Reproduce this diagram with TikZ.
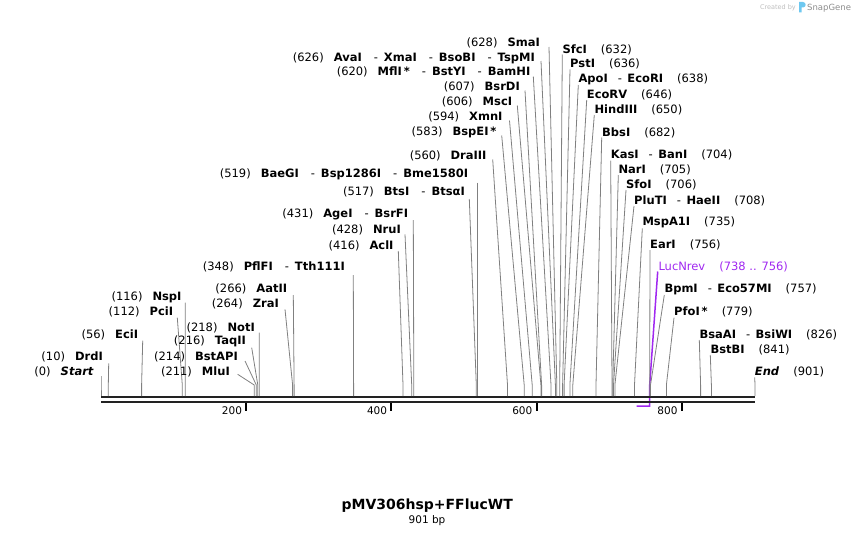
\documentclass[tikz,border=0pt]{standalone}
\usepackage{fontspec}
\setmainfont{DejaVu Sans}
\definecolor{siteg}{RGB}{128,128,128}
\definecolor{bbone}{RGB}{34,34,34}
\definecolor{primerc}{RGB}{160,40,240}
\definecolor{wmlight}{RGB}{190,190,190}
\definecolor{wmdark}{RGB}{140,140,140}
\definecolor{wmblue}{RGB}{110,200,240}
\newcommand\gapA{\hspace{10pt}}
\newcommand\gapB{\hspace{14pt}}
\newcommand\dsh{\hspace{10pt}-\hspace{5.5pt}}
\newcommand\dshL{\hspace{12pt}-\hspace{6pt}}
% left label: name, text right x, baseline y, line start x, line start y, site x, text
\newcommand\lsite[7]{%
  \node[lbl, anchor=base east] (#1) at (#2,#3) {#7};
  \coordinate (#1-t) at (#4,#5);
  \coordinate (#1-k) at (#6,385);
  \coordinate (#1-s) at (#6,396);
  \draw[siteline] (#1-t) -- (#1-k) -- (#1-s);}
% right label: name, text left x, baseline y, line start x, line start y, site x, text
\newcommand\rsite[7]{%
  \node[lbl, anchor=base west] (#1) at (#2,#3) {#7};
  \coordinate (#1-t) at (#4,#5);
  \coordinate (#1-k) at (#6,385);
  \coordinate (#1-s) at (#6,396);
  \draw[siteline] (#1-t) -- (#1-k) -- (#1-s);}
\newcommand\tickat[2]{%
  \coordinate (tk#2a) at (#1,403);
  \coordinate (tk#2b) at (#1,410.5);
  \draw[tickline] (tk#2a) -- (tk#2b);
  \node[ticklbl, anchor=base east] (tl#2) at (#1-4,414) {#2};}
\begin{document}
\begin{tikzpicture}[x=1pt,y=-1pt,
  lbl/.style={inner sep=0pt, font=\fontsize{11.5}{13}\selectfont},
  siteline/.style={draw=siteg, line width=0.8pt},
  bbline/.style={draw=bbone, line width=2.2pt},
  tickline/.style={draw=black, line width=2pt},
  ticklbl/.style={inner sep=0pt, font=\fontsize{10.5}{12}\selectfont},
  primerline/.style={draw=primerc, line width=1.5pt}]
\useasboundingbox (0,0) rectangle (856,535);

% watermark
\node[inner sep=0pt, anchor=base east, text=wmlight, font=\fontsize{6.5}{8}\selectfont] (wm1) at (796,10) {Created by};
\fill[wmblue] (799,12.5) -- (799,2) -- (803,2) .. controls (806.5,2) and (806.5,7.5) .. (803,7.5) -- (801.6,7.5) -- (801.6,12.5) -- cycle;
\node[inner sep=0pt, anchor=base west, text=wmdark, font=\fontsize{8.5}{10}\selectfont] (wm2) at (807,10.5) {SnapGene};

% primer LucNrev
\node[lbl, anchor=base west, text=primerc] (lucn) at (658.3,270) {LucNrev\gapB(738 .. 756)};
\coordinate (lucn-t) at (657.7,271.5);
\coordinate (lucn-k) at (649.7,385);
\coordinate (lucn-e) at (649.7,406);
\coordinate (lucn-b) at (636.7,406);
\draw[primerline] (lucn-t) -- (lucn-k) -- (lucn-e) -- (lucn-b);

% backbone
\coordinate (b0) at (101,397.2);
\coordinate (b1) at (755,397.2);
\coordinate (c0) at (101,401.8);
\coordinate (c1) at (755,401.8);
\draw[bbline] (b0) -- (b1);
\draw[bbline] (c0) -- (c1);

\tickat{246.2}{200}
\tickat{391.3}{400}
\tickat{536.5}{600}
\tickat{681.7}{800}

% left-hand labels
\lsite{smaI}{540}{46.5}{549}{47}{556.8}{(628)\gapA\textbf{SmaI}}
\lsite{avaI}{535}{61}{541}{61}{555.4}{(626)\gapA\textbf{AvaI}\dshL\textbf{XmaI}\dshL\textbf{BsoBI}\dshL\textbf{TspMI}}
\lsite{mflI}{530.5}{75.5}{533.3}{76.5}{551.0}{(620)\gapA\textbf{MflI\,*}\dshL\textbf{BstYI}\dshL\textbf{BamHI}}
\lsite{bsrDI}{520}{90.5}{525}{90.5}{541.6}{(607)\gapA\textbf{BsrDI}}
\lsite{mscI}{512.3}{105.5}{517.3}{105.5}{540.9}{(606)\gapA\textbf{MscI}}
\lsite{xmnI}{502.7}{120}{509.5}{120.5}{532.2}{(594)\gapA\textbf{XmnI}}
\lsite{bspEI}{496.7}{135}{501.7}{135.5}{524.2}{(583)\gapA\textbf{BspEI\,*}}
\lsite{draIII}{486.7}{159}{492.7}{159.5}{507.5}{(560)\gapA\textbf{DraIII}}
\lsite{baeGI}{468.3}{177.5}{477.7}{182.7}{477.7}{(519)\gapA\textbf{BaeGI}\dshL\textbf{Bsp1286I}\dshL\textbf{Bme1580I}}
\lsite{btsI}{465}{195}{469.3}{199}{476.3}{(517)\gapA\textbf{BtsI}\dshL\textbf{BtsαI}}
\lsite{ageI}{408.3}{217}{413.3}{220}{413.8}{(431)\gapA\textbf{AgeI}\dshL\textbf{BsrFI}}
\lsite{nruI}{401}{233}{405}{234.3}{411.7}{(428)\gapA\textbf{NruI}}
\lsite{aclI}{393.7}{249.5}{398.3}{251}{403.0}{(416)\gapA\textbf{AclI}}
\lsite{pflFI}{345}{270}{353.3}{275}{353.6}{(348)\gapA\textbf{PflFI}\dshL\textbf{Tth111I}}
\lsite{aatII}{287.3}{292.3}{293.3}{295}{294.1}{(266)\gapA\textbf{AatII}}
\lsite{zraI}{279}{307.5}{285}{309.3}{292.6}{(264)\gapA\textbf{ZraI}}
\lsite{nspI}{181.7}{300.5}{185.3}{302.7}{185.2}{(116)\gapA\textbf{NspI}}
\lsite{pciI}{173.3}{315}{177.3}{317.7}{182.3}{(112)\gapA\textbf{PciI}}
\lsite{notI}{255}{331}{259.3}{332.7}{259.2}{(218)\gapA\textbf{NotI}}
\lsite{eciI}{138.3}{338}{142.7}{340.7}{141.6}{(56)\gapA\textbf{EciI}}
\lsite{taqII}{246}{344.5}{251.7}{347.7}{257.8}{(216)\gapA\textbf{TaqII}}
\lsite{drdI}{103}{360.5}{108.7}{363.3}{108.3}{(10)\gapA\textbf{DrdI}}
\lsite{bstAPI}{238}{360}{245}{361}{256.3}{(214)\gapA\textbf{BstAPI}}
\lsite{startS}{94}{375.5}{101}{376}{101}{(0)\gapA\textbf{\textit{Start}}}
\lsite{mluI}{230}{375}{237.7}{374.3}{254.2}{(211)\gapA\textbf{MluI}}

% right-hand labels
\rsite{sfcI}{562.3}{53}{562.3}{54.5}{559.7}{\textbf{SfcI}\gapB(632)}
\rsite{pstI}{570}{67.5}{570}{69.3}{562.6}{\textbf{PstI}\gapB(636)}
\rsite{apoI}{578.3}{82}{578.3}{85}{564.1}{\textbf{ApoI}\dsh\textbf{EcoRI}\gapB(638)}
\rsite{ecoRV}{586.7}{98}{586.7}{100}{569.9}{\textbf{EcoRV}\gapB(646)}
\rsite{hindIII}{594.3}{113}{594.3}{115}{572.8}{\textbf{HindIII}\gapB(650)}
\rsite{bbsI}{602}{136}{601.7}{137.5}{596.0}{\textbf{BbsI}\gapB(682)}
\rsite{kasI}{610.7}{158}{610.7}{160.7}{612.0}{\textbf{KasI}\dsh\textbf{BanI}\gapB(704)}
\rsite{narI}{618.3}{173}{618.3}{175}{612.7}{\textbf{NarI}\gapB(705)}
\rsite{sfoI}{626}{188}{626}{190}{613.5}{\textbf{SfoI}\gapB(706)}
\rsite{pluTI}{634}{204}{634}{206}{614.9}{\textbf{PluTI}\dsh\textbf{HaeII}\gapB(708)}
\rsite{mspA1I}{642.3}{225}{642.3}{228.3}{634.5}{\textbf{MspA1I}\gapB(735)}
\rsite{earI}{650}{248}{650}{250}{649.7}{\textbf{EarI}\gapB(756)}
\rsite{bpmI}{664.3}{292}{664.3}{295}{650.5}{\textbf{BpmI}\dsh\textbf{Eco57MI}\gapB(757)}
\rsite{pfoI}{674}{315.5}{674}{317.7}{666.4}{\textbf{PfoI\,*}\gapB(779)}
\rsite{bsaAI}{699.3}{338}{699.3}{340}{700.6}{\textbf{BsaAI}\dsh\textbf{BsiWI}\gapB(826)}
\rsite{bstBI}{710.3}{353}{710.3}{355}{711.4}{\textbf{BstBI}\gapB(841)}
\rsite{endE}{754.7}{375.5}{754.7}{377.3}{755}{\textbf{\textit{End}}\gapB(901)}

% title
\node[inner sep=0pt, anchor=base, font=\fontsize{14}{16}\bfseries] (title) at (427.2,509) {pMV306hsp+FFlucWT};
\node[inner sep=0pt, anchor=base, font=\fontsize{10.5}{12}\selectfont] (len) at (427,523) {901 bp};
\end{tikzpicture}
\end{document}
